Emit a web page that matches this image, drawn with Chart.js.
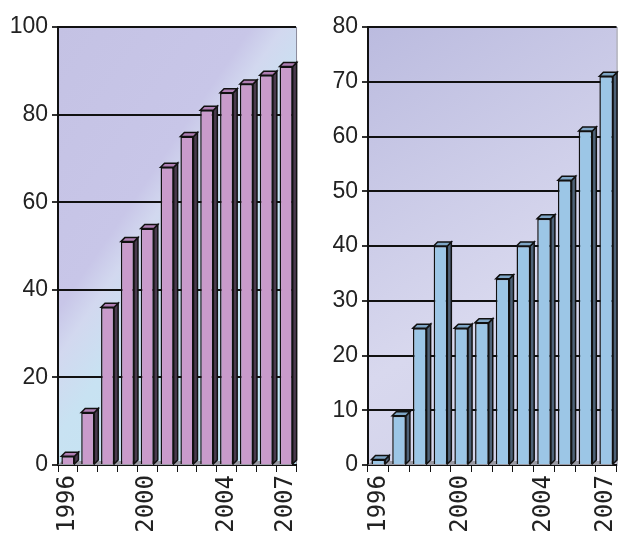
<!DOCTYPE html>
<html>
<head>
<meta charset="utf-8">
<script src="https://cdn.jsdelivr.net/npm/chart.js@4/dist/chart.umd.min.js"></script>
<style>
  html, body { margin: 0; padding: 0; background: #ffffff; }
  .box { position: absolute; top: 0; height: 542px; }
  #leftBox { left: 0; width: 318px; }
  #rightBox { left: 318px; width: 320px; }
</style>
</head>
<body>
<div class="box" id="leftBox"><canvas id="leftChart"></canvas></div>
<div class="box" id="rightBox"><canvas id="rightChart"></canvas></div>
<script>
const years = ["1996", "1997", "1998", "1999", "2000", "2001", "2002", "2003", "2004", "2005", "2006", "2007"];
const shownYears = ["1996", "2000", "2004", "2007"];
const leftValues = [2, 12, 36, 51, 54, 68, 75, 81, 85, 87, 89, 91];
const rightValues = [1, 9, 25, 40, 25, 26, 34, 40, 45, 52, 61, 71];

// fake 3d: side and top faces next to every bar, from the bar elements
const depth = 4;
const bars3d = {
    id: "bars3d",
    afterDatasetsDraw(chart) {
        const ctx = chart.ctx;
        const side = chart.options.plugins.bars3d.side;
        const top = chart.options.plugins.bars3d.top;
        chart.getDatasetMeta(0).data.forEach(bar => {
            const p = bar.getProps(["x", "y", "base", "width"], true);
            const l = p.x - p.width / 2, r = p.x + p.width / 2;
            ctx.save();
            ctx.lineWidth = 1.5;
            ctx.strokeStyle = "#111";
            ctx.fillStyle = side;
            ctx.beginPath();
            ctx.moveTo(r, p.y);
            ctx.lineTo(r + depth, p.y - depth);
            ctx.lineTo(r + depth, p.base - depth);
            ctx.lineTo(r, p.base);
            ctx.closePath();
            ctx.fill();
            ctx.stroke();
            ctx.fillStyle = top;
            ctx.beginPath();
            ctx.moveTo(l, p.y);
            ctx.lineTo(l + depth, p.y - depth);
            ctx.lineTo(r + depth, p.y - depth);
            ctx.lineTo(r, p.y);
            ctx.closePath();
            ctx.fill();
            ctx.stroke();
            ctx.restore();
        });
    }
};

// back wall colour and a thin grey floor
const wall = {
    id: "wall",
    beforeDraw(chart) {
        const a = chart.chartArea;
        const ctx = chart.ctx;
        const w = chart.options.plugins.wall;
        const len = Math.hypot(w.dir[0], w.dir[1]);
        const ux = w.dir[0] / len, uy = w.dir[1] / len;
        const reach = (a.right - a.left) * ux + (a.bottom - a.top) * uy;
        const g = ctx.createLinearGradient(a.left, a.top, a.left + ux * reach, a.top + uy * reach);
        w.stops.forEach(s => g.addColorStop(s[0], s[1]));
        ctx.save();
        ctx.fillStyle = g;
        ctx.fillRect(a.left, a.top, a.right - a.left, a.bottom - a.top);
        ctx.strokeStyle = "#8a8a9a";
        ctx.lineWidth = 1;
        ctx.strokeRect(a.left + 0.5, a.top + 0.5, a.right - a.left, a.bottom - a.top);
        ctx.restore();
    },
    beforeDatasetsDraw(chart) {
        const a = chart.chartArea;
        const ctx = chart.ctx;
        ctx.save();
        ctx.fillStyle = "#9a9aa4";
        ctx.beginPath();
        ctx.moveTo(a.left, a.bottom);
        ctx.lineTo(a.left + depth, a.bottom - depth);
        ctx.lineTo(a.right, a.bottom - depth);
        ctx.lineTo(a.right - depth, a.bottom);
        ctx.closePath();
        ctx.fill();
        ctx.restore();
    }
};

function makeChart(id, values, maxY, stepY, barColor, sideColor, topColor, wallDir, wallStops, axisWidth, padRight) {
    return new Chart(id, {
        type: "bar",
        data: {
            labels: years,
            datasets: [{
                data: values,
                backgroundColor: barColor,
                borderColor: "#111",
                borderWidth: 1.5,
                barPercentage: 0.66,
                categoryPercentage: 1.0
            }]
        },
        options: {
            responsive: true,
            maintainAspectRatio: false,
            animation: false,
            layout: { padding: { top: 27, right: padRight, left: 0, bottom: 0 } },
            plugins: {
                legend: { display: false },
                tooltip: { enabled: false },
                bars3d: { side: sideColor, top: topColor },
                wall: { dir: wallDir, stops: wallStops }
            },
            scales: {
                x: {
                    afterFit: s => { s.height = 77; },
                    grid: { drawOnChartArea: false, color: "#111", tickLength: 7 },
                    border: { color: "#111", width: 2 },
                    ticks: {
                        autoSkip: false,
                        maxRotation: 90,
                        minRotation: 90,
                        padding: 3,
                        color: "#222",
                        font: { family: "DejaVu Sans Mono", size: 24 },
                        callback: function (v) {
                            const lab = this.getLabelForValue(v);
                            return shownYears.includes(lab) ? lab : "";
                        }
                    }
                },
                y: {
                    min: 0,
                    max: maxY,
                    afterFit: s => { s.width = axisWidth; },
                    grid: { color: "#111", lineWidth: 2, tickLength: 6, tickColor: "#333" },
                    border: { color: "#111", width: 2 },
                    ticks: {
                        stepSize: stepY,
                        padding: 4,
                        color: "#222",
                        font: { family: "Liberation Sans", size: 23 }
                    }
                }
            }
        },
        plugins: [wall, bars3d]
    });
}

makeChart("leftChart", leftValues, 100, 20, "#c99bcb", "#4a3a4e", "#b07fb4",
    [330, 225],
    [[0, "#c4c2e4"], [0.36, "#c8c6e8"], [0.42, "#d2d8ef"], [0.52, "#c8e2f2"], [1, "#bfe7f4"]], 58, 2);
makeChart("rightChart", rightValues, 80, 10, "#9cc6e6", "#4e6278", "#7fa6c6",
    [270, 440],
    [[0, "#bbbbdf"], [0.6, "#d8d8ee"], [1, "#d0d0e8"]], 50, 0);
</script>
</body>
</html>
